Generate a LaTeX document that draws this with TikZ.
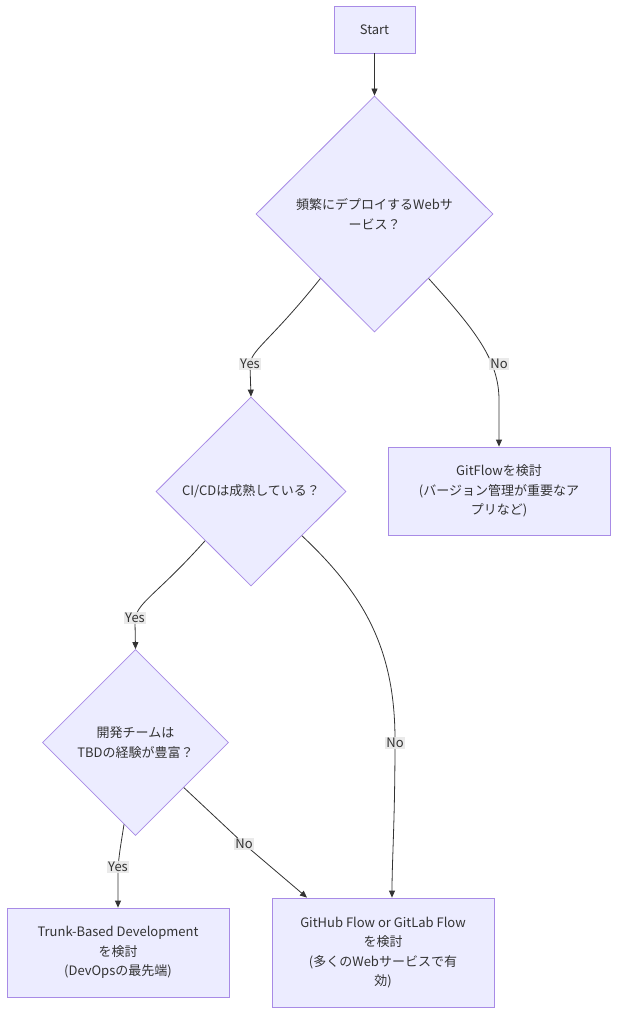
\documentclass[tikz,border=0pt]{standalone}
\usepackage{fontspec}
\setmainfont{Noto Sans CJK JP}
\usetikzlibrary{shapes.geometric,arrows.meta}
\definecolor{nodefill}{HTML}{ECECFF}
\definecolor{nodeline}{HTML}{A88BE6}
\definecolor{txt}{HTML}{333333}
\definecolor{lblbg}{HTML}{E8E8E8}
\begin{document}
\begin{tikzpicture}[x=1pt,y=-1pt,
  font=\fontsize{13}{19.5}\selectfont,
  box/.style={rectangle, draw=nodeline, fill=nodefill, line width=0.8pt, text=txt, align=center, minimum width=222pt, inner sep=0pt},
  decision/.style={diamond, draw=nodeline, fill=nodefill, line width=0.8pt, text=txt, align=center, inner sep=1pt, shape aspect=1},
  edge/.style={draw=txt, line width=0.8pt, -{Triangle[length=7pt,width=6pt]}},
  lbl/.style={fill=lblbg, text=txt, inner sep=1.5pt, fill opacity=0.9, text opacity=1}]
\useasboundingbox (0,0) rectangle (624,1024);
\fill[white] (0,0) rectangle (624,1024);

\node[box, minimum width=81pt, minimum height=47pt] (start) at (374.5,29.5) {Start};
\node[decision, minimum width=237pt, minimum height=236pt] (d1) at (374.5,214) {頻繁にデプロイするWebサ\\ービス？};
\node[decision, minimum width=190pt, minimum height=189pt] (d2) at (251,491.5) {CI/CDは成熟している？};
\node[decision, minimum width=186pt, minimum height=186pt] (d3) at (135.5,742.5) {開発チームは\\TBDの経験が豊富？};
\node[box, minimum height=88pt] (gitflow) at (499,491) {GitFlowを検討\\(バージョン管理が重要なア\\プリなど)};
\node[box, minimum height=89pt] (trunk) at (118,952.5) {Trunk-Based Development\\を検討\\(DevOpsの最先端)};
\node[box, minimum height=109pt] (ghflow) at (383,952.5) {GitHub Flow or GitLab Flow\\を検討\\(多くのWebサービスで有\\効)};

% edges
\draw[edge] (start) -- (d1);
\draw[edge] (d1.230) .. controls (268,344) and (250,350) .. (250,366) -- (d2.north);
\draw[edge] (d1.-50) .. controls (475,330) and (499,360) .. (499,400) -- (gitflow.north);
\draw[edge] (d2.227) .. controls (155,597) and (135,603) .. (135,622) -- (d3.north);
\draw[edge] (d2.-41) .. controls (365,595) and (395,650) .. (395,740) .. controls (395,820) and (392,860) .. ([xshift=9pt]ghflow.north);
\draw[edge] (d3.-98) .. controls (120,850) and (118,860) .. (118,875) -- (trunk.north);
\draw[edge] (d3.-43) -- (244,844) -- ([xshift=-76pt]ghflow.north);

% edge labels
\node[lbl] (l1) at (250,364) {Yes};
\node[lbl] (l2) at (499,364) {No};
\node[lbl] (l3) at (135,618) {Yes};
\node[lbl] (l4) at (395,743) {No};
\node[lbl] (l5) at (118,867) {Yes};
\node[lbl] (l6) at (244,844) {No};
\end{tikzpicture}
\end{document}
